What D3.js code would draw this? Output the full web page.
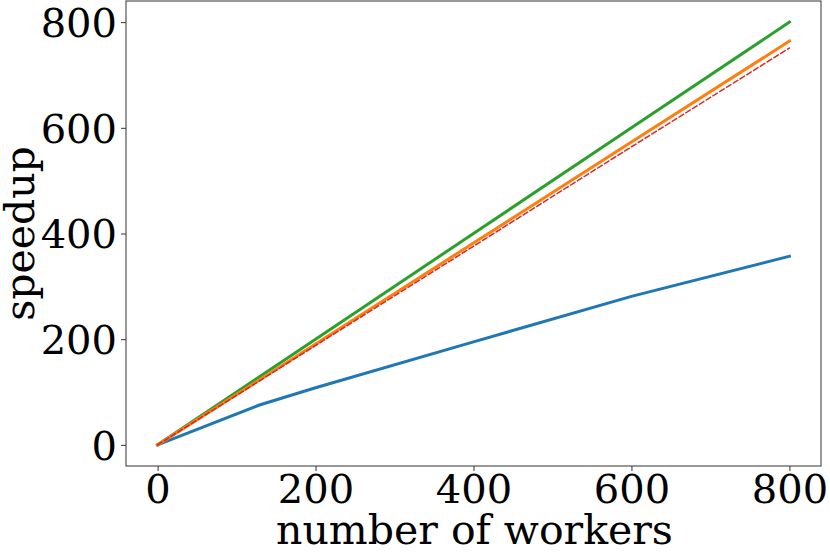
<!DOCTYPE html>
<html><head><meta charset="utf-8">
<script src="https://cdn.jsdelivr.net/npm/d3@7"></script>
<style>body{margin:0;background:#fff}svg{display:block}</style>
</head><body>
<svg id="c" width="830" height="554"></svg>
<script>
const workers = [0, 128, 200, 400, 600, 800];
const measured = [0, 75, 108, 195, 281, 357];
const ideal = [0, 128, 200, 400, 600, 800];
const model = [0, 122, 191, 382, 573, 764];
const bound = [0, 120, 188, 376, 564, 751];
const xTicks = [0, 200, 400, 600, 800];
const yTicks = [0, 200, 400, 600, 800];

const svg = d3.select("#c");
const L = 126, R = 821, T = 1, B = 466;
const x = d3.scaleLinear().domain([-40, 840]).range([L, R]);
const y = d3.scaleLinear().domain([-40, 840]).range([B, T]);
const font = "DejaVu Serif";

const gx = svg.append("g").attr("transform", `translate(0,${B})`)
  .call(d3.axisBottom(x).tickValues(xTicks).tickSize(5).tickPadding(4).tickFormat(d3.format("d")));
const gy = svg.append("g").attr("transform", `translate(${L},0)`)
  .call(d3.axisLeft(y).tickValues(yTicks).tickSize(5).tickPadding(4).tickFormat(d3.format("d")));
[gx, gy].forEach(g => {
  g.select(".domain").remove();
  g.selectAll("line").attr("stroke", "#333");
  g.selectAll("text").attr("font-family", font).attr("font-size", 40).attr("fill", "#000");
});
gy.selectAll("text").attr("dy", "0.36em");

svg.append("rect").attr("x", L).attr("y", T).attr("width", R - L).attr("height", B - T)
  .attr("fill", "none").attr("stroke", "#333").attr("stroke-width", 1);

const series = [
  {v: measured, c: "#1f77b4", w: 3, d: null},
  {v: ideal, c: "#2ca02c", w: 3, d: null},
  {v: model, c: "#ff7f0e", w: 3, d: null},
  {v: bound, c: "#d62728", w: 1.5, d: "5,3"}
];
const line = d3.line();
series.forEach(s => {
  svg.append("path")
    .attr("d", line(workers.map((w, i) => [x(w), y(s.v[i])])))
    .attr("fill", "none").attr("stroke", s.c).attr("stroke-width", s.w)
    .attr("stroke-dasharray", s.d).attr("stroke-linecap", "square");
});

svg.append("text").attr("x", (L + R) / 2 + 1).attr("y", 544).attr("text-anchor", "middle")
  .attr("font-family", font).attr("font-size", 41).text("number of workers");
svg.append("text").attr("transform", `translate(34,${(T + B) / 2}) rotate(-90)`)
  .attr("text-anchor", "middle").attr("font-family", font).attr("font-size", 41).text("speedup");
</script>
</body></html>
